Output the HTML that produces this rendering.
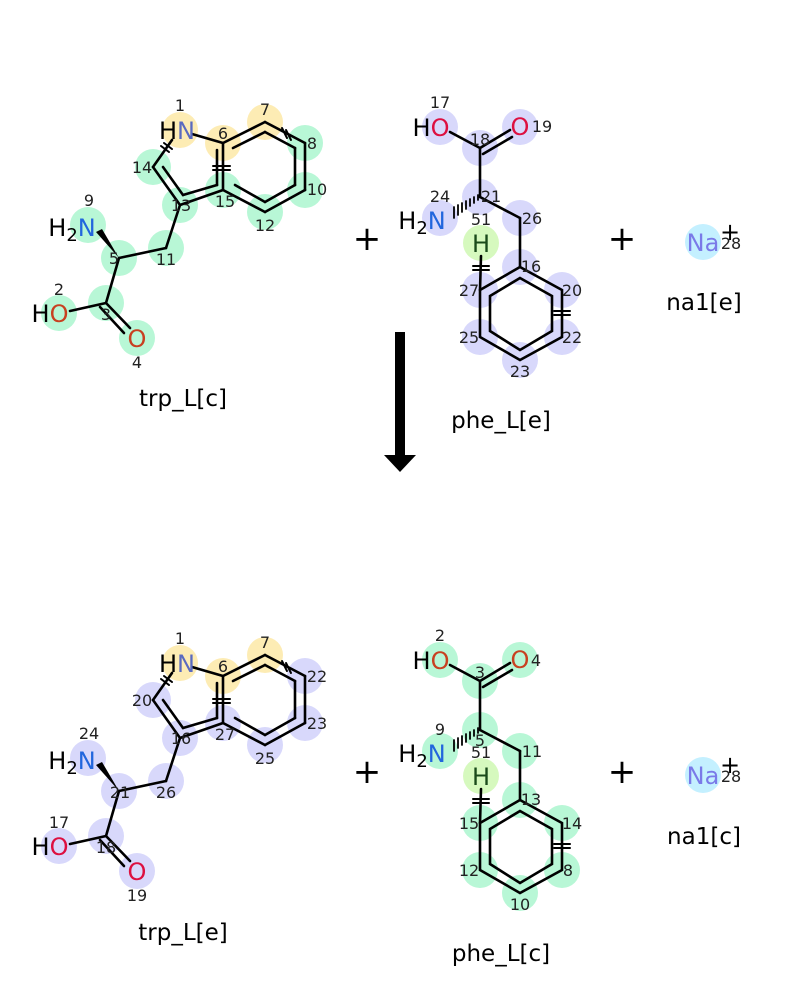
<!DOCTYPE html>
<html><head><meta charset="utf-8"><style>
body{margin:0;background:#fff}
svg{display:block;font-family:"DejaVu Sans","Liberation Sans",sans-serif}
.n{font-size:16px;fill:#222;text-anchor:middle}
.a{font-size:24px;text-anchor:middle}
.t{font-size:23px;fill:#000;text-anchor:middle}
.p{font-size:34px;fill:#000;text-anchor:middle}
</style></head><body>
<svg width="800" height="1000" viewBox="0 0 800 1000" xmlns="http://www.w3.org/2000/svg">
<defs>
<g id="trpB" stroke="#000" stroke-width="2.6" fill="none" stroke-linecap="round">
<line x1="192" y1="134" x2="223" y2="143"/>
<line x1="172" y1="140" x2="153" y2="167"/>
<line x1="153" y1="167" x2="180" y2="205"/>
<line x1="163" y1="167" x2="183" y2="195"/>
<line x1="180" y1="205" x2="223" y2="190"/>
<line x1="183" y1="195" x2="217" y2="185"/>
<line x1="223" y1="143" x2="223" y2="190"/>
<line x1="217" y1="150" x2="217" y2="185"/>
<line x1="213" y1="166" x2="230" y2="166" stroke-width="2"/>
<line x1="213" y1="170" x2="230" y2="170" stroke-width="2"/>
<line x1="161" y1="146" x2="169" y2="152" stroke-width="2"/>
<line x1="164" y1="143" x2="172" y2="149" stroke-width="2"/>
<line x1="223" y1="143" x2="265" y2="122"/>
<line x1="233" y1="148" x2="265" y2="132"/>
<line x1="265" y1="122" x2="305" y2="143"/>
<line x1="265" y1="132" x2="295" y2="148"/>
<line x1="305" y1="143" x2="305" y2="190"/>
<line x1="295" y1="148" x2="295" y2="185"/>
<line x1="305" y1="190" x2="265" y2="212"/>
<line x1="295" y1="185" x2="265" y2="202"/>
<line x1="265" y1="212" x2="223" y2="190"/>
<line x1="265" y1="202" x2="235" y2="185"/>
<line x1="282" y1="128" x2="287" y2="138" stroke-width="2"/>
<line x1="286" y1="130" x2="291" y2="140" stroke-width="2"/>
<line x1="180" y1="205" x2="166" y2="248"/>
<line x1="166" y1="248" x2="119" y2="258"/>
<line x1="119" y1="258" x2="106" y2="303"/>
<line x1="106" y1="303" x2="70" y2="311"/>
<line x1="106" y1="303" x2="130" y2="328"/>
<line x1="100" y1="307" x2="124" y2="333"/>
<polygon points="119,258 96,232 102,229" fill="#000" stroke="none"/>
</g>
<g id="pheB" stroke="#000" stroke-width="2.6" fill="none" stroke-linecap="round">
<line x1="450" y1="132" x2="480" y2="148"/>
<line x1="480" y1="148" x2="510" y2="130"/>
<line x1="483" y1="154" x2="512" y2="137"/>
<line x1="480" y1="148" x2="480" y2="197"/>
<line x1="480" y1="197" x2="520" y2="218"/>
<line x1="520" y1="218" x2="520" y2="267"/>
<polygon points="520,267 562,290 562,337 520,360 480,337 480,290"/>
<polygon points="520,278 552,296 552,331 520,350 490,331 490,296"/>
<line x1="481" y1="256" x2="480" y2="290"/>
<line x1="473" y1="266" x2="489" y2="266" stroke-width="2"/>
<line x1="473" y1="270" x2="489" y2="270" stroke-width="2"/>
<line x1="554" y1="311" x2="570" y2="311" stroke-width="2"/>
<line x1="554" y1="315" x2="570" y2="315" stroke-width="2"/>
<g stroke-width="1.8"><line x1="478" y1="195" x2="478" y2="200"/><line x1="474" y1="197" x2="474" y2="203"/><line x1="470" y1="199" x2="470" y2="206"/><line x1="466" y1="201" x2="466" y2="209"/><line x1="462" y1="203" x2="462" y2="212"/><line x1="458" y1="205" x2="458" y2="215"/><line x1="454" y1="207" x2="454" y2="218"/></g>
</g>
</defs>

<g fill="#b8f7d6">
<circle cx="153" cy="167" r="18"/><circle cx="180" cy="205" r="18"/><circle cx="223" cy="190" r="18"/>
<circle cx="305" cy="143" r="18"/><circle cx="305" cy="190" r="18"/><circle cx="265" cy="212" r="18"/>
<circle cx="166" cy="248" r="18"/><circle cx="119" cy="258" r="18"/><circle cx="88" cy="225" r="18"/>
<circle cx="106" cy="303" r="18"/><circle cx="59" cy="313" r="18"/><circle cx="137" cy="338" r="18"/>
</g>
<g fill="#fdecb4"><circle cx="180" cy="130" r="18"/><circle cx="223" cy="143" r="18"/><circle cx="265" cy="122" r="18"/></g>
<g fill="#d8d8fb">
<circle cx="440" cy="127" r="18"/><circle cx="480" cy="148" r="18"/><circle cx="520" cy="127" r="18"/>
<circle cx="480" cy="197" r="18"/><circle cx="440" cy="218" r="18"/><circle cx="520" cy="218" r="18"/>
<circle cx="520" cy="267" r="18"/><circle cx="562" cy="290" r="18"/><circle cx="562" cy="337" r="18"/>
<circle cx="520" cy="360" r="18"/><circle cx="480" cy="337" r="18"/><circle cx="480" cy="290" r="18"/>
</g>
<circle cx="481" cy="243" r="18" fill="#d6f9be"/>
<circle cx="703" cy="242" r="18" fill="#c4f0ff"/>

<g fill="#d8d8fb" transform="translate(0,533)">
<circle cx="153" cy="167" r="18"/><circle cx="180" cy="205" r="18"/><circle cx="223" cy="190" r="18"/>
<circle cx="305" cy="143" r="18"/><circle cx="305" cy="190" r="18"/><circle cx="265" cy="212" r="18"/>
<circle cx="166" cy="248" r="18"/><circle cx="119" cy="258" r="18"/><circle cx="88" cy="225" r="18"/>
<circle cx="106" cy="303" r="18"/><circle cx="59" cy="313" r="18"/><circle cx="137" cy="338" r="18"/>
</g>
<g fill="#fdecb4" transform="translate(0,533)"><circle cx="180" cy="130" r="18"/><circle cx="223" cy="143" r="18"/><circle cx="265" cy="122" r="18"/></g>
<g fill="#b8f7d6" transform="translate(0,533)">
<circle cx="440" cy="127" r="18"/><circle cx="480" cy="148" r="18"/><circle cx="520" cy="127" r="18"/>
<circle cx="480" cy="197" r="18"/><circle cx="440" cy="218" r="18"/><circle cx="520" cy="218" r="18"/>
<circle cx="520" cy="267" r="18"/><circle cx="562" cy="290" r="18"/><circle cx="562" cy="337" r="18"/>
<circle cx="520" cy="360" r="18"/><circle cx="480" cy="337" r="18"/><circle cx="480" cy="290" r="18"/>
</g>
<circle cx="481" cy="776" r="18" fill="#d6f9be"/>
<circle cx="703" cy="775" r="18" fill="#c4f0ff"/>

<use href="#trpB"/><use href="#pheB"/>
<use href="#trpB" transform="translate(0,533)"/><use href="#pheB" transform="translate(0,533)"/>

<text x="177" y="139" class="a"><tspan fill="#000">H</tspan><tspan fill="#5a6ac0">N</tspan></text>
<text x="72" y="236" class="a"><tspan fill="#000">H</tspan><tspan fill="#000" font-size="18" dy="5">2</tspan><tspan fill="#2266dd" dy="-5">N</tspan></text>
<text x="50" y="322" class="a"><tspan fill="#000">H</tspan><tspan fill="#c84020">O</tspan></text>
<text x="137" y="347" class="a" fill="#c84020">O</text>
<g class="n">
<text x="180" y="111">1</text><text x="223" y="139">6</text><text x="265" y="115">7</text><text x="312" y="149">8</text>
<text x="317" y="195">10</text><text x="265" y="231">12</text><text x="225" y="207">15</text><text x="181" y="211">13</text>
<text x="142" y="173">14</text><text x="166" y="265">11</text><text x="114" y="264">5</text><text x="89" y="206">9</text>
<text x="106" y="320">3</text><text x="59" y="295">2</text><text x="137" y="368">4</text>
</g>
<text x="431" y="136" class="a"><tspan fill="#000">H</tspan><tspan fill="#dd1040">O</tspan></text>
<text x="520" y="135" class="a" fill="#dd1040">O</text>
<text x="422" y="229" class="a"><tspan fill="#000">H</tspan><tspan font-size="18" dy="5">2</tspan><tspan fill="#2266dd" dy="-5">N</tspan></text>
<text x="481" y="252" class="a" fill="#1a4a1a">H</text>
<g class="n">
<text x="440" y="108">17</text><text x="480" y="145">18</text><text x="542" y="132">19</text><text x="491" y="202">21</text>
<text x="440" y="202">24</text><text x="481" y="225">51</text><text x="532" y="224">26</text><text x="531" y="272">16</text>
<text x="572" y="296">20</text><text x="572" y="343">22</text><text x="520" y="377">23</text><text x="469" y="343">25</text><text x="469" y="296">27</text>
</g>
<text x="703" y="251" class="a" fill="#7a7ae8">Na</text>
<text x="730" y="240" class="a" font-size="22">+</text>
<text x="731" y="249" class="n">28</text>

<text x="177" y="672" class="a"><tspan fill="#000">H</tspan><tspan fill="#5a6ac0">N</tspan></text>
<text x="72" y="769" class="a"><tspan fill="#000">H</tspan><tspan font-size="18" dy="5">2</tspan><tspan fill="#2266dd" dy="-5">N</tspan></text>
<text x="50" y="855" class="a"><tspan fill="#000">H</tspan><tspan fill="#dd1040">O</tspan></text>
<text x="137" y="880" class="a" fill="#dd1040">O</text>
<g class="n">
<text x="180" y="644">1</text><text x="223" y="672">6</text><text x="265" y="648">7</text><text x="317" y="682">22</text>
<text x="317" y="729">23</text><text x="265" y="764">25</text><text x="225" y="740">27</text><text x="181" y="744">16</text>
<text x="142" y="706">20</text><text x="166" y="798">26</text><text x="120" y="798">21</text><text x="89" y="739">24</text>
<text x="106" y="853">18</text><text x="59" y="828">17</text><text x="137" y="901">19</text>
</g>
<text x="431" y="669" class="a"><tspan fill="#000">H</tspan><tspan fill="#c84020">O</tspan></text>
<text x="520" y="668" class="a" fill="#c84020">O</text>
<text x="422" y="762" class="a"><tspan fill="#000">H</tspan><tspan font-size="18" dy="5">2</tspan><tspan fill="#2266dd" dy="-5">N</tspan></text>
<text x="481" y="785" class="a" fill="#1a4a1a">H</text>
<g class="n">
<text x="440" y="641">2</text><text x="480" y="678">3</text><text x="536" y="666">4</text><text x="480" y="746">5</text>
<text x="440" y="735">9</text><text x="481" y="758">51</text><text x="532" y="757">11</text><text x="531" y="805">13</text>
<text x="572" y="829">14</text><text x="568" y="876">8</text><text x="520" y="910">10</text><text x="469" y="876">12</text><text x="469" y="829">15</text>
</g>
<text x="703" y="784" class="a" fill="#7a7ae8">Na</text>
<text x="730" y="773" class="a" font-size="22">+</text>
<text x="731" y="782" class="n">28</text>

<text x="367" y="250" class="p">+</text><text x="622" y="250" class="p">+</text>
<text x="367" y="783" class="p">+</text><text x="622" y="783" class="p">+</text>

<text x="183" y="406" class="t">trp_L[c]</text>
<text x="501" y="428" class="t">phe_L[e]</text>
<text x="704" y="310" class="t">na1[e]</text>
<text x="183" y="940" class="t">trp_L[e]</text>
<text x="501" y="961" class="t">phe_L[c]</text>
<text x="704" y="844" class="t">na1[c]</text>
<rect x="395" y="332" width="10" height="124" fill="#000"/>
<polygon points="384,455 416,455 400,472" fill="#000"/>
</svg>
</body></html>
